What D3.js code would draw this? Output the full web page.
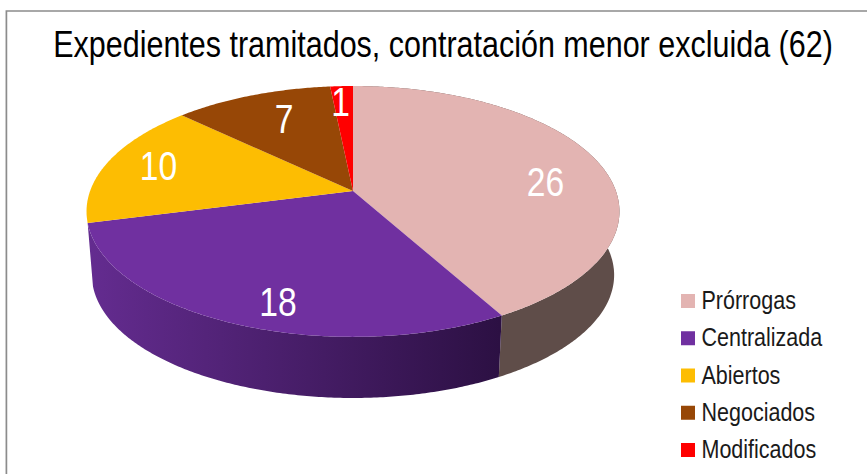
<!DOCTYPE html>
<html>
<head>
<meta charset="utf-8">
<script src="https://cdn.jsdelivr.net/npm/d3@7"></script>
<style>
  html, body { margin: 0; padding: 0; background: #fff; overflow: hidden; }
  text { font-family: "Liberation Sans", sans-serif; }
</style>
</head>
<body>
<div id="chart"></div>
<script>
const titleText = "Expedientes tramitados, contratación menor excluida (62)";
const categories = ["Prórrogas", "Centralizada", "Abiertos", "Negociados", "Modificados"];
const values = [26, 18, 10, 7, 1];
const topColors = ["#e3b4b2", "#7030a0", "#fdbd02", "#974706", "#ff0000"];

const width = 867;
const height = 474;

const svg = d3.select("#chart").append("svg")
    .attr("width", width)
    .attr("height", height);

// squeeze a text to look like the narrow face of the original
const narrow = (sel, factor) => sel.each(function () {
  this.setAttribute("textLength", this.getComputedTextLength() * factor);
  this.setAttribute("lengthAdjust", "spacingAndGlyphs");
});

// frame of the chart area, only left and top fall inside the picture
svg.append("path")
    .attr("d", d3.line()([[6.4, height], [6.4, 11], [width, 11]]))
    .attr("fill", "none")
    .attr("stroke", "#8c8c8c")
    .attr("stroke-width", 1.7);

const title = svg.append("text")
    .attr("text-anchor", "middle")
    .attr("font-size", 37)
    .attr("fill", "#000")
    .text(titleText);
title.attr("transform", `translate(443,57) scale(${780 / title.node().getComputedTextLength()},1)`);

// the tilted disc: a perspective projection of the unit circle
const apex = { x: 353, y: 191 };
const persp = { a: 262.9, b: 122.1, k: 0.163 };
const wall = { drop: 64, shrink: 0.98 };

const project = (angle, lower) => {
  const u = Math.sin(angle);
  const v = -Math.cos(angle);
  const d = 1 - persp.k * v;
  const x = persp.a * u / d;
  const y = persp.b * v / d;
  if (!lower) return [apex.x + x, apex.y + y];
  return [apex.x + x * wall.shrink, apex.y + wall.drop + y * wall.shrink];
};

const rimAngles = (d) => {
  const n = Math.max(2, Math.ceil((d.endAngle - d.startAngle) / 0.01));
  return d3.range(n + 1).map((i) => d.startAngle + (d.endAngle - d.startAngle) * i / n);
};

const pie = d3.pie().sort(null)(values);
const line = d3.line();

// side wall shading of the purple slice
const purpleWall = svg.append("defs").append("linearGradient")
    .attr("id", "wall-purple")
    .attr("gradientUnits", "userSpaceOnUse")
    .attr("x1", 88)
    .attr("x2", 500)
    .attr("y1", 0)
    .attr("y2", 0);
["#642c90", "#2c1043"].forEach((c, i) => purpleWall.append("stop").attr("offset", i).attr("stop-color", c));
const wallColors = ["#5f4d49", "url(#wall-purple)"];

// only slices reaching the front of the disc show a wall
svg.append("g").selectAll("path")
    .data(pie.filter((d) => -Math.cos(d.endAngle) > 0))
    .join("path")
    .attr("fill", (d) => wallColors[d.index])
    .attr("d", (d) => {
      const a = rimAngles(d);
      return line([...a.map((t) => project(t, false)), ...a.reverse().map((t) => project(t, true))]) + "Z";
    });

svg.append("g").selectAll("path")
    .data(pie)
    .join("path")
    .attr("fill", (d) => topColors[d.index])
    .attr("d", (d) => line([[apex.x, apex.y], ...rimAngles(d).map((t) => project(t, false))]) + "Z");

// value labels, placed by an offset from the middle of each slice's rim
const labelOffsets = [[-52, 34], [47, -7], [50, 18], [32, 38], [-1, 30]];
svg.append("g").selectAll("text")
    .data(pie)
    .join("text")
    .attr("text-anchor", "middle")
    .attr("font-size", 41)
    .attr("fill", "#fff")
    .attr("x", (d) => project((d.startAngle + d.endAngle) / 2, false)[0] + labelOffsets[d.index][0])
    .attr("y", (d) => project((d.startAngle + d.endAngle) / 2, false)[1] + labelOffsets[d.index][1])
    .text((d) => d.value)
    .call(narrow, 0.82);

// legend
const legendY = d3.scalePoint().domain(categories).range([301, 450]);
const legend = svg.append("g").selectAll("g")
    .data(categories)
    .join("g")
    .attr("transform", (d) => `translate(681,${legendY(d)})`);
legend.append("rect")
    .attr("y", -7)
    .attr("width", 14)
    .attr("height", 14)
    .attr("fill", (d, i) => topColors[i]);
legend.append("text")
    .attr("x", 20.5)
    .attr("y", 8)
    .attr("font-size", 25)
    .attr("fill", "#1a1a1a")
    .text((d) => d)
    .call(narrow, 0.86);
</script>
</body>
</html>
